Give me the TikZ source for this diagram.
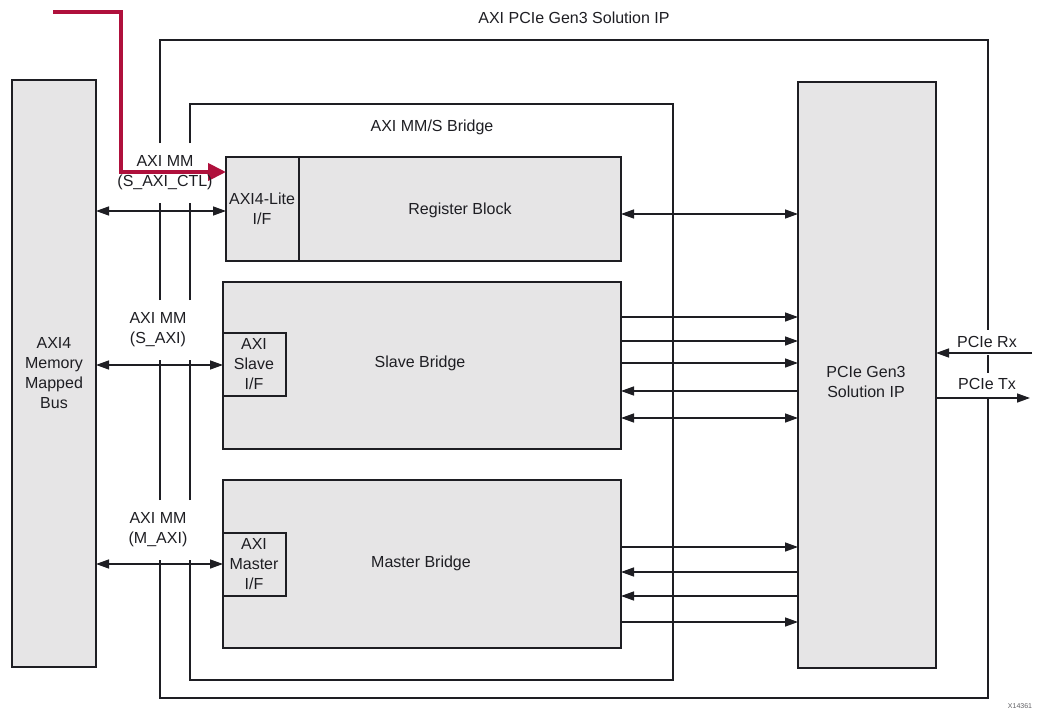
\documentclass[tikz,border=0pt]{standalone}
\usepackage{fontspec}
\setmainfont{Liberation Sans}
\usetikzlibrary{arrows.meta}
\definecolor{boxgray}{RGB}{230,229,230}
\definecolor{xred}{RGB}{175,16,60}
\definecolor{ink}{RGB}{30,30,35}
\begin{document}
\begin{tikzpicture}[x=1pt,y=-1pt,
  blk/.style={draw=ink, line width=1.4pt, fill=boxgray, inner sep=0pt, outer sep=0pt, anchor=north west},
  lbl/.style={text=ink, font=\fontsize{16}{20}\selectfont, align=center, inner sep=0pt},
  frame/.style={draw=ink, line width=1.4pt},
  conn/.style={draw=ink, line width=1.4pt, -{Triangle[length=13pt,width=9pt]}},
  biconn/.style={draw=ink, line width=1.4pt, {Triangle[length=13pt,width=9pt]}-{Triangle[length=13pt,width=9pt]}},
  redarrow/.style={draw=xred, line width=4pt, -{Triangle[length=18pt,width=17pt]}}]
\useasboundingbox (0,0) rectangle (1047,712);
\fill[white] (0,0) rectangle (1047,712);

% outer frame (AXI PCIe Gen3 Solution IP) with gaps for labels
\draw[frame] (160,143) -- (160,40) -- (988,40) -- (988,330);
\draw[frame] (988,355) -- (988,373);
\draw[frame] (988,398) -- (988,698) -- (160,698) -- (160,560);
\draw[frame] (160,500) -- (160,360);
\draw[frame] (160,300) -- (160,203);
% inner frame (AXI MM/S Bridge)
\draw[frame] (190,143) -- (190,104) -- (673,104) -- (673,680) -- (190,680) -- (190,560);
\draw[frame] (190,500) -- (190,360);
\draw[frame] (190,300) -- (190,203);

% blocks
\node[blk, minimum width=84, minimum height=587] (bus) at (12,80) {};
\node[blk, minimum width=138, minimum height=586] (pcie) at (798,82) {};
\node[blk, minimum width=395, minimum height=104] (reg) at (226,157) {};
\node[blk, minimum width=73, minimum height=104] (lite) at (226,157) {};
\node[blk, minimum width=398, minimum height=167] (slave) at (223,282) {};
\node[blk, minimum width=63, minimum height=63] (sif) at (223,333) {};
\node[blk, minimum width=398, minimum height=168] (master) at (223,480) {};
\node[blk, minimum width=63, minimum height=63] (mif) at (223,533) {};

% level coordinates
\coordinate (yctl) at (0,211);
\coordinate (yreg) at (0,214);
\coordinate (ys) at (0,365);
\coordinate (ym) at (0,564);
\coordinate (redstart) at (53,12);
\coordinate (ycorner) at (121,12);
\coordinate (ybend) at (121,172);
\coordinate (rxin) at (1032,353);
\coordinate (txout) at (1030,398);

% left side connectors
\draw[biconn] (bus.east |- yctl) -- (lite.west |- yctl);
\draw[biconn] (bus.east |- ys) -- (sif.west |- ys);
\draw[biconn] (bus.east |- ym) -- (mif.west |- ym);

% right side connectors
\draw[biconn] (reg.east |- yreg) -- (pcie.west |- yreg);
\foreach \yy in {317,341,363} {
  \coordinate (t) at (0,\yy);
  \draw[conn] (slave.east |- t) -- (pcie.west |- t);
}
\coordinate (t1) at (0,391);
\draw[conn] (pcie.west |- t1) -- (slave.east |- t1);
\coordinate (t2) at (0,418);
\draw[biconn] (slave.east |- t2) -- (pcie.west |- t2);
\foreach \yy in {547,622} {
  \coordinate (t) at (0,\yy);
  \draw[conn] (master.east |- t) -- (pcie.west |- t);
}
\foreach \yy in {572,596} {
  \coordinate (t) at (0,\yy);
  \draw[conn] (pcie.west |- t) -- (master.east |- t);
}
\draw[conn] (rxin) -- (pcie.east |- rxin);
\draw[conn] (pcie.east |- txout) -- (txout);

% red arrow
\draw[redarrow] (redstart) -- (ycorner) -- (ybend) -- (lite.west |- ybend);

% labels
\node[lbl] (ttop) at (574,18) {AXI PCIe Gen3 Solution IP};
\node[lbl] (tbridge) at (432,127) {AXI MM/S Bridge};
\node[lbl] (tbus) at (54,373) {AXI4\\Memory\\Mapped\\Bus};
\node[lbl] (tpcie) at (866,382) {PCIe Gen3\\Solution IP};
\node[lbl] (treg) at (460,210) {Register Block};
\node[lbl] (tlite) at (262,209) {AXI4-Lite\\I/F};
\node[lbl] (tslave) at (420,363) {Slave Bridge};
\node[lbl] (tsif) at (254,364) {AXI\\Slave\\I/F};
\node[lbl] (tmaster) at (421,563) {Master Bridge};
\node[lbl] (tmif) at (254,564) {AXI\\Master\\I/F};
\node[lbl] (tctl) at (165,173) {AXI MM\\(S\_AXI\_CTL)};
\node[lbl] (tsaxi) at (158,330) {AXI MM\\(S\_AXI)};
\node[lbl] (tmaxi) at (158,530) {AXI MM\\(M\_AXI)};
\node[lbl] (trx) at (987,342) {PCIe Rx};
\node[lbl] (ttx) at (987,384) {PCIe Tx};
\node[text=ink!70, font=\fontsize{7}{8}\selectfont, inner sep=0pt] (tid) at (1020,706) {X14361};
\end{tikzpicture}
\end{document}
